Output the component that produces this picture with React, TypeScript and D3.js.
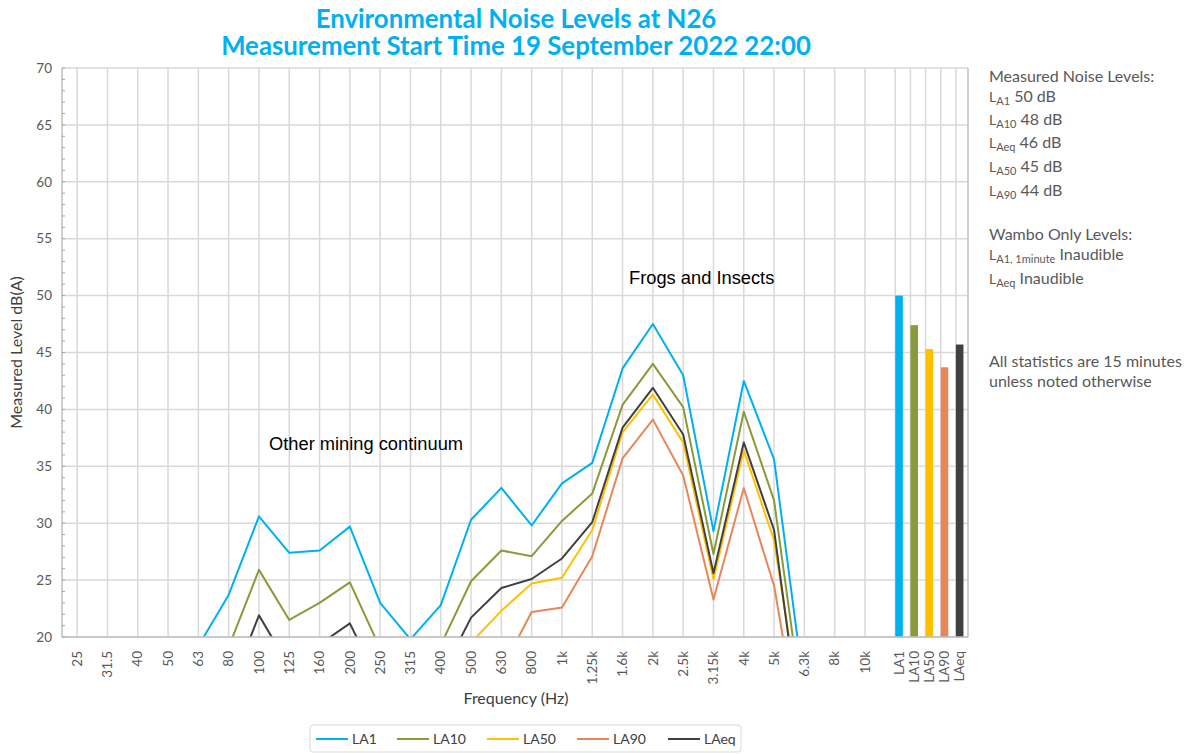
import React from "react";
import * as d3 from "d3";

const frequencies = ["25","31.5","40","50","63","80","100","125","160","200","250","315","400","500","630","800","1k","1.25k","1.6k","2k","2.5k","3.15k","4k","5k","6.3k","8k","10k"];
const la1Values = [null,null,null,null,19.2,23.7,30.6,27.4,27.6,29.7,23.0,19.8,22.8,30.3,33.1,29.8,33.5,35.3,43.6,47.5,43.0,29.3,42.5,35.6,15.3,null,null];
const la10Values = [null,null,null,null,null,19.1,25.9,21.5,23.0,24.8,19.0,null,19.3,24.9,27.6,27.1,30.2,32.6,40.4,44.0,40.2,27.3,39.8,32.0,12.6,null,null];
const la50Values = [null,null,null,null,null,null,null,null,null,null,null,null,null,19.5,22.3,24.7,25.2,29.4,38.0,41.3,37.1,25.1,36.4,28.5,11.2,null,null];
const la90Values = [null,null,null,null,null,null,null,null,null,null,null,null,null,null,17.1,22.2,22.6,27.1,35.7,39.1,34.2,23.3,33.1,24.5,9.0,null,null];
const laeqValues = [null,null,null,null,null,15.1,21.9,17.4,19.35,21.2,15.75,null,16.5,21.7,24.3,25.1,26.9,30.1,38.4,41.9,37.8,25.6,37.1,29.4,9.6,null,null];

const seriesNames = ["LA1","LA10","LA50","LA90","LAeq"];
const seriesColors = ["#00B0F0","#8A9A3B","#FFC000","#E6875A","#404040"];
const seriesData = [la1Values, la10Values, la50Values, la90Values, laeqValues];

const statLabels = ["LA1","LA10","LA50","LA90","LAeq"];
const statValues = [50.0, 47.4, 45.3, 43.7, 45.7];

const yTicks = [20,25,30,35,40,45,50,55,60,65,70];

const panelLevels = [
  { sub: "A1", text: " 50 dB" },
  { sub: "A10", text: " 48 dB" },
  { sub: "Aeq", text: " 46 dB" },
  { sub: "A50", text: " 45 dB" },
  { sub: "A90", text: " 44 dB" },
];

export default function App() {
  const left = 62, right = 968, top = 68, bottom = 637;
  const x = d3.scaleLinear().domain([-0.5, 29.4]).range([left, right]);
  const y = d3.scaleLinear().domain([20, 70]).range([bottom, top]);
  const line = d3.line<number | null>()
    .defined(d => d != null)
    .x((_, i) => x(i))
    .y(d => y(d as number));
  const minor = d3.range(20, 71, 1);
  const barSlot = (k: number) => 27 + 0.5 * k;
  const barW = x(0.25) - x(0);
  const gridX = [...frequencies.map((_, i) => i), ...statLabels.map((_, k) => barSlot(k))];
  const tickFont = "Lato, 'Open Sans', sans-serif";
  const grey = "#595959";

  const panelYs = [102, 125, 148, 172, 196];

  return (
    <svg width={1192} height={754} style={{ position: "absolute", left: 0, top: 0, background: "#fff" }}
      fontFamily={tickFont}>
      <defs>
        <clipPath id="plotClip">
          <rect x={left} y={top} width={right - left} height={bottom - top} />
        </clipPath>
      </defs>
      <rect x={0} y={0} width={1192} height={754} fill="#fff" />
      {/* title */}
      <text x={516} y={28} textAnchor="middle" fontSize={25.8} fontWeight={700} fill="#00B0F0">Environmental Noise Levels at N26</text>
      <text x={516} y={55} textAnchor="middle" fontSize={25.8} fontWeight={700} fill="#00B0F0">Measurement Start Time 19 September 2022 22:00</text>

      {/* grid */}
      {yTicks.map(t => (
        <line key={"gy" + t} x1={left} x2={right} y1={y(t)} y2={y(t)} stroke="#D9D9D9" strokeWidth={1.5} />
      ))}
      {gridX.map((s, i) => (
        <line key={"gx" + i} x1={x(s)} x2={x(s)} y1={top} y2={bottom} stroke="#D9D9D9" strokeWidth={1.5} />
      ))}
      <line x1={right} x2={right} y1={top} y2={bottom} stroke="#BFBFBF" strokeWidth={1.5} />

      {/* bars */}
      {statValues.map((v, k) => (
        <rect key={"bar" + k} x={x(barSlot(k))} y={y(v)} width={barW} height={y(20) - y(v)} fill={seriesColors[k]} />
      ))}

      {/* lines */}
      <g clipPath="url(#plotClip)">
        {seriesData.map((d, k) => (
          <path key={"ln" + k} d={line(d) || ""} fill="none" stroke={seriesColors[k]} strokeWidth={2} strokeLinejoin="round" />
        ))}
      </g>

      {/* axes */}
      <line x1={left} x2={left} y1={top} y2={bottom} stroke="#BFBFBF" strokeWidth={1.5} />
      <line x1={left} x2={right} y1={bottom} y2={bottom} stroke="#BFBFBF" strokeWidth={1.5} />
      {minor.map(t => (
        <line key={"mt" + t} x1={left} x2={left + 3} y1={y(t)} y2={y(t)} stroke="#A6A6A6" strokeWidth={1} />
      ))}
      {yTicks.map(t => (
        <text key={"yl" + t} x={52} y={y(t)} dy="0.35em" textAnchor="end" fontSize={13.5} fill={grey}>{t}</text>
      ))}
      {frequencies.map((f, i) => (
        <text key={"xl" + i} transform={`translate(${x(i)},651) rotate(-90)`} textAnchor="end" dy="0.35em" fontSize={13.5} fill={grey}>{f}</text>
      ))}
      {statLabels.map((f, k) => (
        <text key={"sl" + k} transform={`translate(${x(barSlot(k) + 0.125)},651) rotate(-90)`} textAnchor="end" dy="0.35em" fontSize={13.5} fill={grey}>{f}</text>
      ))}

      <text transform={`translate(22,${(top + bottom) / 2}) rotate(-90)`} textAnchor="middle" fontSize={16} fill="#404040">Measured Level dB(A)</text>
      <text x={516} y={704} textAnchor="middle" fontSize={16} fill="#404040">Frequency (Hz)</text>

      {/* annotations */}
      <text x={269} y={450} fontSize={18.3} fontFamily="'Liberation Sans', Arial, sans-serif" fill="#000">Other mining continuum</text>
      <text x={629} y={284} fontSize={18.3} fontFamily="'Liberation Sans', Arial, sans-serif" fill="#000">Frogs and Insects</text>

      {/* right panel */}
      <g fill={grey} fontSize={16}>
        <text x={989} y={82}>Measured Noise Levels:</text>
        {panelLevels.map((p, i) => (
          <text key={"pl" + i} x={989} y={panelYs[i]}>
            <tspan fontSize={14}>L</tspan>
            <tspan fontSize={11} dy={3}>{p.sub}</tspan>
            <tspan dy={-3}>{p.text}</tspan>
          </text>
        ))}
        <text x={989} y={240}>Wambo Only Levels:</text>
        <text x={989} y={260}>
          <tspan fontSize={14}>L</tspan>
          <tspan fontSize={11} dy={3}>A1, 1minute</tspan>
          <tspan dy={-3}> Inaudible</tspan>
        </text>
        <text x={989} y={284}>
          <tspan fontSize={14}>L</tspan>
          <tspan fontSize={11} dy={3}>Aeq</tspan>
          <tspan dy={-3}> Inaudible</tspan>
        </text>
        <text x={989} y={367}>All statistics are 15 minutes</text>
        <text x={989} y={387}>unless noted otherwise</text>
      </g>

      {/* legend */}
      <rect x={310} y={725} width={431} height={27} rx={3} fill="#fff" stroke="#D9D9D9" strokeWidth={1} />
      {seriesNames.map((n, k) => {
        const lx = [316, 397, 487, 577, 668][k];
        return (
          <g key={"lg" + k}>
            <line x1={lx} x2={lx + 32} y1={739} y2={739} stroke={seriesColors[k]} strokeWidth={2} />
            <text x={lx + 36} y={739} dy="0.35em" fontSize={14} fill="#404040">{n}</text>
          </g>
        );
      })}
    </svg>
  );
}
